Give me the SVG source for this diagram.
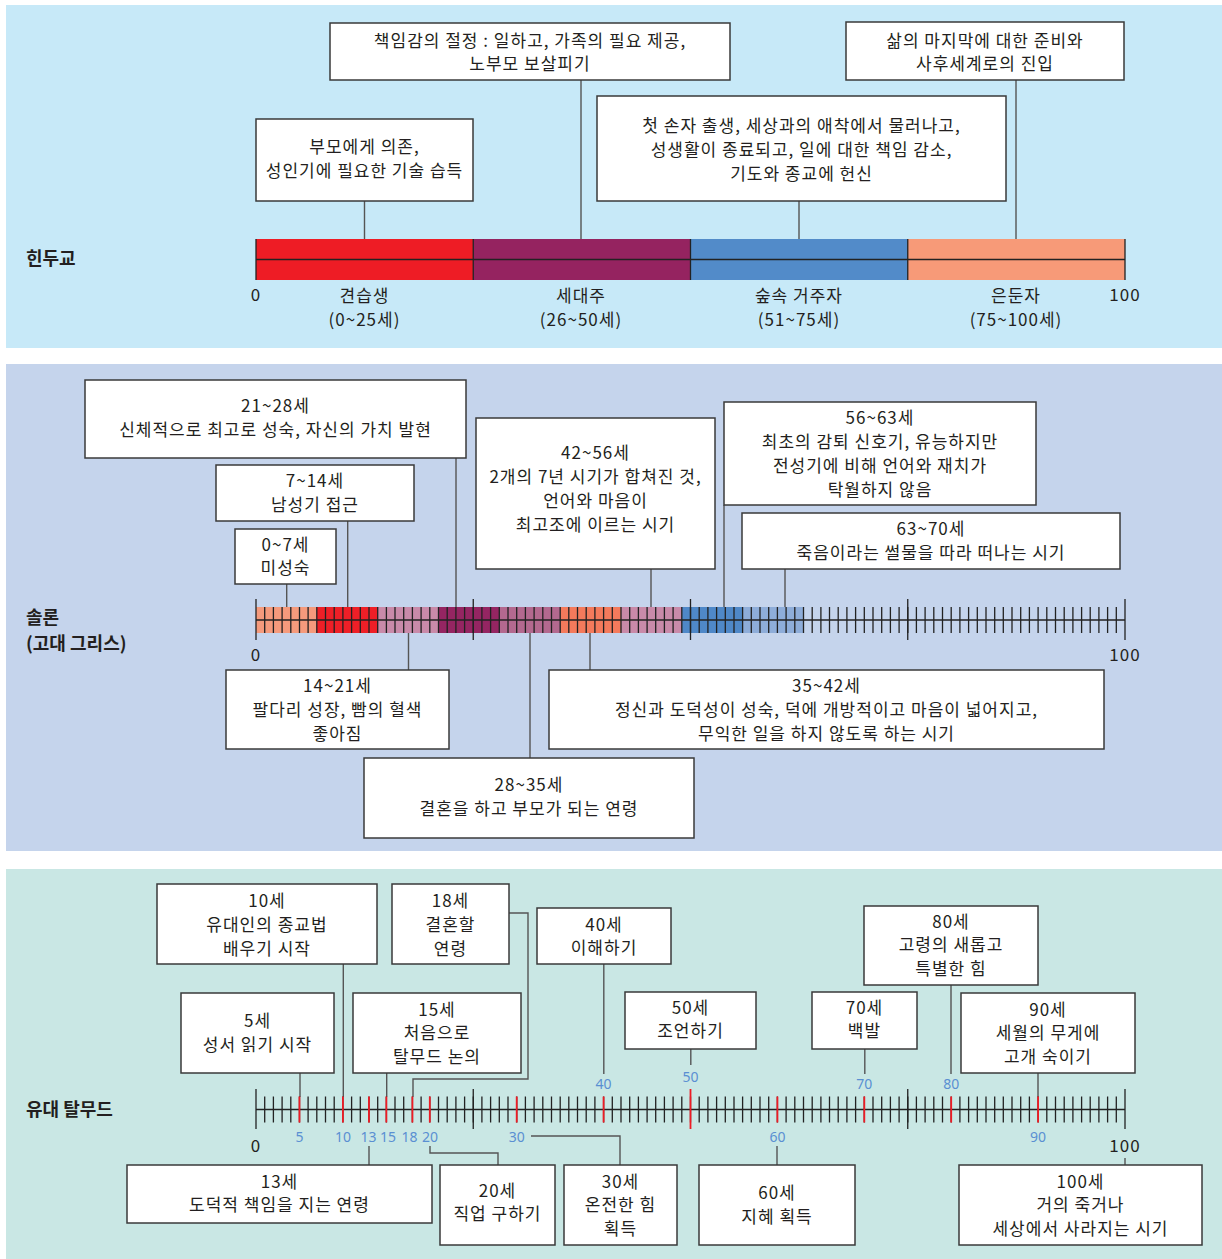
<svg xmlns="http://www.w3.org/2000/svg" xmlns:xlink="http://www.w3.org/1999/xlink" width="1222" height="1259" viewBox="0 0 1222 1259">
<style>
.t{font-family:"Noto Sans CJK KR","Noto Sans",sans-serif;font-size:17px;letter-spacing:1px;fill:#231f20;text-anchor:middle}
.hd{font-family:"Noto Sans CJK KR","Noto Sans",sans-serif;font-size:18px;font-weight:700;fill:#231f20}
.bl{font-family:"Noto Sans","Noto Sans CJK KR",sans-serif;font-size:14px;fill:#5a8fd2;text-anchor:middle}
.box{fill:#fff;stroke:#3a3a3a;stroke-width:1.5}
.cn{stroke:#555;stroke-width:1.4;fill:none}
.tk{stroke:#222;stroke-width:1.3;fill:none}
.rt{stroke:#ee1c25;stroke-width:1.8;fill:none}
</style>
<defs>
<path id="ticks" class="tk" d="M264.7,0v26M273.4,0v26M282.1,0v26M290.8,0v26M299.5,0v26M308.1,0v26M316.8,0v26M325.5,0v26M334.2,0v26M342.9,0v26M351.6,0v26M360.3,0v26M369,0v26M377.7,0v26M386.4,0v26M395,0v26M403.7,0v26M412.4,0v26M421.1,0v26M429.8,0v26M438.5,0v26M447.2,0v26M455.9,0v26M464.6,0v26M473.3,0v26M481.9,0v26M490.6,0v26M499.3,0v26M508,0v26M516.7,0v26M525.4,0v26M534.1,0v26M542.8,0v26M551.5,0v26M560.2,0v26M568.8,0v26M577.5,0v26M586.2,0v26M594.9,0v26M603.6,0v26M612.3,0v26M621,0v26M629.7,0v26M638.4,0v26M647.1,0v26M655.7,0v26M664.4,0v26M673.1,0v26M681.8,0v26M690.5,0v26M699.2,0v26M707.9,0v26M716.6,0v26M725.3,0v26M734,0v26M742.6,0v26M751.3,0v26M760,0v26M768.7,0v26M777.4,0v26M786.1,0v26M794.8,0v26M803.5,0v26M812.2,0v26M820.9,0v26M829.5,0v26M838.2,0v26M846.9,0v26M855.6,0v26M864.3,0v26M873,0v26M881.7,0v26M890.4,0v26M899.1,0v26M907.8,0v26M916.4,0v26M925.1,0v26M933.8,0v26M942.5,0v26M951.2,0v26M959.9,0v26M968.6,0v26M977.3,0v26M986,0v26M994.7,0v26M1003.3,0v26M1012,0v26M1020.7,0v26M1029.4,0v26M1038.1,0v26M1046.8,0v26M1055.5,0v26M1064.2,0v26M1072.9,0v26M1081.6,0v26M1090.2,0v26M1098.9,0v26M1107.6,0v26M1116.3,0v26"/>
</defs>
<rect x="6" y="5" width="1216" height="343" fill="#c7e9f8"/>
<rect x="6" y="364" width="1216" height="487" fill="#c5d4ec"/>
<rect x="6" y="869" width="1216" height="390" fill="#c9e7e4"/>

<g id="connectors">
<path class="cn" d="M364.5,201V239M581,80V239M799,201V239M1016,80V239"/>
<path class="cn" d="M456,458V607M347.7,521V607M286.7,584V607M408.5,633V670M530,633V758M590,633V670M651,569V607M724,505V607M785,569V607"/>
<path class="cn" d="M343.3,964V1097M509,913H528V1079H413V1097M603.8,964V1074M300,1073V1097M386.7,1073V1097M690.8,1049V1065M864.8,1049V1074M951,985V1074M1038,1073V1097"/>
<path class="cn" d="M369,1146V1165M430,1146V1153H498V1165M531,1136H620V1165M777,1146V1165M1125,1158V1165"/>
</g>

<g id="hindu-axis">
<rect x="256" y="239" width="217.25" height="41" fill="#ee1c25"/>
<rect x="473.25" y="239" width="217.25" height="41" fill="#952360"/>
<rect x="690.5" y="239" width="217.25" height="41" fill="#528bc9"/>
<rect x="907.75" y="239" width="217.25" height="41" fill="#f79a78"/>
<path class="tk" d="M256,259.5H1125M256,239V280M473.25,239V280M690.5,239V280M907.75,239V280M1125,239V280"/>
<text class="hd" x="26" y="265">힌두교</text>
<text class="t" x="256" y="301">0</text>
<text class="t" x="1125" y="301">100</text>
<text class="t" x="364.5" y="302">견습생</text>
<text class="t" x="364.5" y="326">(0~25세)</text>
<text class="t" x="581" y="302">세대주</text>
<text class="t" x="581" y="326">(26~50세)</text>
<text class="t" x="799" y="302">숲속 거주자</text>
<text class="t" x="799" y="326">(51~75세)</text>
<text class="t" x="1016" y="302">은둔자</text>
<text class="t" x="1016" y="326">(75~100세)</text>
</g>

<g id="h-box1"><rect class="box" x="256" y="119" width="217" height="82"/><text class="t" x="364.5" y="153">부모에게 의존,</text><text class="t" x="364.5" y="177">성인기에 필요한 기술 습득</text></g>
<g id="h-box2"><rect class="box" x="330" y="23" width="400" height="57"/><text class="t" x="530" y="47">책임감의 절정 : 일하고, 가족의 필요 제공,</text><text class="t" x="530" y="70">노부모 보살피기</text></g>
<g id="h-box3"><rect class="box" x="597" y="96" width="409" height="105"/><text class="t" x="801.5" y="132">첫 손자 출생, 세상과의 애착에서 물러나고,</text><text class="t" x="801.5" y="156">성생활이 종료되고, 일에 대한 책임 감소,</text><text class="t" x="801.5" y="180">기도와 종교에 헌신</text></g>
<g id="h-box4"><rect class="box" x="846" y="22" width="278" height="58"/><text class="t" x="985" y="47">삶의 마지막에 대한 준비와</text><text class="t" x="985" y="70">사후세계로의 진입</text></g>

<g id="solon-axis">
<rect x="256" y="607" width="60.83" height="26" fill="#f59a7c"/>
<rect x="316.83" y="607" width="60.83" height="26" fill="#ee1f27"/>
<rect x="377.66" y="607" width="60.83" height="26" fill="#c98aa9"/>
<rect x="438.49" y="607" width="60.83" height="26" fill="#952562"/>
<rect x="499.32" y="607" width="60.83" height="26" fill="#b3698f"/>
<rect x="560.15" y="607" width="60.83" height="26" fill="#f47a5c"/>
<rect x="620.98" y="607" width="60.83" height="26" fill="#c98aa9"/>
<rect x="681.81" y="607" width="60.83" height="26" fill="#4f88c8"/>
<rect x="742.64" y="607" width="60.83" height="26" fill="#8eadd9"/>
<path class="tk" d="M256,620H1125"/>
<use xlink:href="#ticks" href="#ticks" x="0" y="607"/>
<path class="tk" d="M256,599V640M473.25,599V640M690.5,599V640M907.75,599V640M1125,599V640"/>
<text class="hd" x="26" y="624">솔론</text>
<text class="hd" x="26" y="650">(고대 그리스)</text>
<text class="t" x="256" y="661">0</text>
<text class="t" x="1125" y="661">100</text>
</g>

<g id="s-0-7"><rect class="box" x="235" y="529" width="101" height="55"/><text class="t" x="285.5" y="551">0~7세</text><text class="t" x="285.5" y="574">미성숙</text></g>
<g id="s-7-14"><rect class="box" x="216" y="465" width="198" height="56"/><text class="t" x="315" y="487">7~14세</text><text class="t" x="315" y="511">남성기 접근</text></g>
<g id="s-14-21"><rect class="box" x="226" y="670" width="223" height="79"/><text class="t" x="337.5" y="692">14~21세</text><text class="t" x="337.5" y="716">팔다리 성장, 빰의 혈색</text><text class="t" x="337.5" y="740">좋아짐</text></g>
<g id="s-21-28"><rect class="box" x="85" y="380" width="381" height="78"/><text class="t" x="275.5" y="412">21~28세</text><text class="t" x="275.5" y="436">신체적으로 최고로 성숙, 자신의 가치 발현</text></g>
<g id="s-28-35"><rect class="box" x="364" y="758" width="330" height="80"/><text class="t" x="529" y="791">28~35세</text><text class="t" x="529" y="815">결혼을 하고 부모가 되는 연령</text></g>
<g id="s-35-42"><rect class="box" x="549" y="670" width="555" height="79"/><text class="t" x="826.5" y="692">35~42세</text><text class="t" x="826.5" y="716">정신과 도덕성이 성숙, 덕에 개방적이고 마음이 넓어지고,</text><text class="t" x="826.5" y="740">무익한 일을 하지 않도록 하는 시기</text></g>
<g id="s-42-56"><rect class="box" x="476" y="418" width="239" height="151"/><text class="t" x="595.5" y="459">42~56세</text><text class="t" x="595.5" y="483">2개의 7년 시기가 합쳐진 것,</text><text class="t" x="595.5" y="507">언어와 마음이</text><text class="t" x="595.5" y="531">최고조에 이르는 시기</text></g>
<g id="s-56-63"><rect class="box" x="724" y="402" width="312" height="103"/><text class="t" x="880" y="424">56~63세</text><text class="t" x="880" y="448">최초의 감퇴 신호기, 유능하지만</text><text class="t" x="880" y="472">전성기에 비해 언어와 재치가</text><text class="t" x="880" y="496">탁월하지 않음</text></g>
<g id="s-63-70"><rect class="box" x="742" y="513" width="378" height="56"/><text class="t" x="931" y="535">63~70세</text><text class="t" x="931" y="559">죽음이라는 썰물을 따라 떠나는 시기</text></g>

<g id="talmud-axis">
<path class="tk" d="M256,1109.5H1125"/>
<use xlink:href="#ticks" href="#ticks" x="0" y="1096.5"/>
<path class="tk" d="M256,1089V1129M473.25,1089V1129M907.75,1089V1129M1125,1089V1129"/>
<path class="rt" d="M299.45,1096.5V1122.5M342.9,1096.5V1122.5M368.97,1096.5V1122.5M386.35,1096.5V1122.5M412.42,1096.5V1122.5M429.8,1096.5V1122.5M516.7,1096.5V1122.5M603.6,1096.5V1122.5M777.4,1096.5V1122.5M864.3,1096.5V1122.5M951.2,1096.5V1122.5M1038.1,1096.5V1122.5M690.5,1089V1129"/>
<text class="hd" x="26" y="1116">유대 탈무드</text>
<text class="t" x="256" y="1152">0</text>
<text class="t" x="1125" y="1152">100</text>
<text class="bl" x="299.5" y="1142">5</text>
<text class="bl" x="343" y="1142">10</text>
<text class="bl" x="368.5" y="1142">13</text>
<text class="bl" x="388" y="1142">15</text>
<text class="bl" x="409.5" y="1142">18</text>
<text class="bl" x="430" y="1142">20</text>
<text class="bl" x="516.7" y="1142">30</text>
<text class="bl" x="777.4" y="1142">60</text>
<text class="bl" x="1038.1" y="1142">90</text>
<text class="bl" x="603.6" y="1089">40</text>
<text class="bl" x="690.5" y="1082">50</text>
<text class="bl" x="864.3" y="1089">70</text>
<text class="bl" x="951.2" y="1089">80</text>
</g>

<g id="t-10"><rect class="box" x="157" y="884" width="220" height="80"/><text class="t" x="267" y="907">10세</text><text class="t" x="267" y="931">유대인의 종교법</text><text class="t" x="267" y="955">배우기 시작</text></g>
<g id="t-18"><rect class="box" x="392" y="884" width="117" height="80"/><text class="t" x="450.5" y="907">18세</text><text class="t" x="450.5" y="931">결혼할</text><text class="t" x="450.5" y="955">연령</text></g>
<g id="t-40"><rect class="box" x="537" y="908" width="134" height="56"/><text class="t" x="604" y="931">40세</text><text class="t" x="604" y="954">이해하기</text></g>
<g id="t-80"><rect class="box" x="864" y="906" width="174" height="79"/><text class="t" x="951" y="928">80세</text><text class="t" x="951" y="951">고령의 새롭고</text><text class="t" x="951" y="975">특별한 힘</text></g>
<g id="t-5"><rect class="box" x="181" y="993" width="153" height="80"/><text class="t" x="257.5" y="1027">5세</text><text class="t" x="257.5" y="1051">성서 읽기 시작</text></g>
<g id="t-15"><rect class="box" x="353" y="993" width="168" height="80"/><text class="t" x="437" y="1016">15세</text><text class="t" x="437" y="1039">처음으로</text><text class="t" x="437" y="1063">탈무드 논의</text></g>
<g id="t-50"><rect class="box" x="625" y="992" width="131" height="57"/><text class="t" x="690.5" y="1014">50세</text><text class="t" x="690.5" y="1037">조언하기</text></g>
<g id="t-70"><rect class="box" x="812" y="992" width="105" height="57"/><text class="t" x="864.5" y="1014">70세</text><text class="t" x="864.5" y="1037">백발</text></g>
<g id="t-90"><rect class="box" x="961" y="993" width="174" height="80"/><text class="t" x="1048" y="1016">90세</text><text class="t" x="1048" y="1039">세월의 무게에</text><text class="t" x="1048" y="1063">고개 숙이기</text></g>
<g id="t-13"><rect class="box" x="127" y="1165" width="305" height="58"/><text class="t" x="279.5" y="1188">13세</text><text class="t" x="279.5" y="1211">도덕적 책임을 지는 연령</text></g>
<g id="t-20"><rect class="box" x="440" y="1165" width="115" height="80"/><text class="t" x="497.5" y="1197">20세</text><text class="t" x="497.5" y="1220">직업 구하기</text></g>
<g id="t-30"><rect class="box" x="564" y="1165" width="113" height="80"/><text class="t" x="620.5" y="1188">30세</text><text class="t" x="620.5" y="1211">온전한 힘</text><text class="t" x="620.5" y="1235">획득</text></g>
<g id="t-60"><rect class="box" x="699" y="1165" width="156" height="80"/><text class="t" x="777" y="1199">60세</text><text class="t" x="777" y="1223">지혜 획득</text></g>
<g id="t-100"><rect class="box" x="959" y="1165" width="243" height="80"/><text class="t" x="1080.5" y="1188">100세</text><text class="t" x="1080.5" y="1211">거의 죽거나</text><text class="t" x="1080.5" y="1235">세상에서 사라지는 시기</text></g>
</svg>
